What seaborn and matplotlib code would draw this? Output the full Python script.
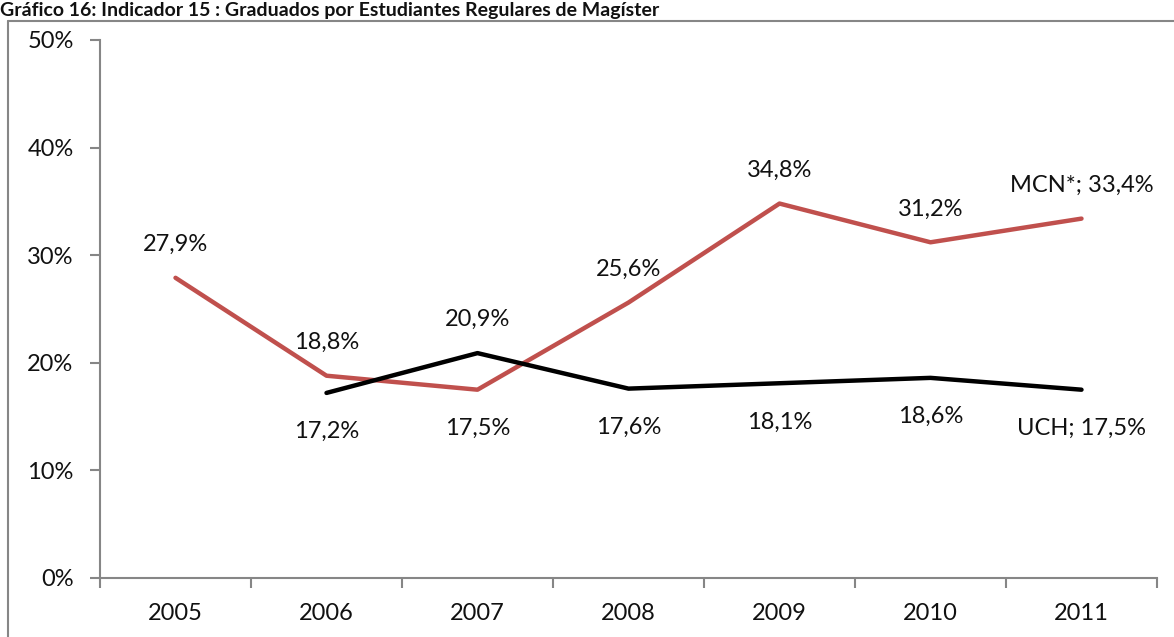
import matplotlib
matplotlib.use("Agg")
import matplotlib.pyplot as plt
import seaborn as sns
import pandas as pd
import numpy as np
from matplotlib.lines import Line2D
from matplotlib.ticker import FixedLocator, PercentFormatter

# data
years = ["2005", "2006", "2007", "2008", "2009", "2010", "2011"]
mcn = [27.9, 18.8, 17.5, 25.6, 34.8, 31.2, 33.4]
uch = [np.nan, 17.2, 20.9, 17.6, 18.1, 18.6, 17.5]
series_names = ["MCN*", "UCH"]
title = "Gráfico 16: Indicador 15 : Graduados por Estudiantes Regulares de Magíster"

df = pd.DataFrame({
    "year": years * 2,
    "value": mcn + uch,
    "serie": [series_names[0]] * len(years) + [series_names[1]] * len(years),
})

sns.set_theme(style="white")
plt.rcParams["font.family"] = ["Lato", "DejaVu Sans"]

FS = 17
fig = plt.figure(figsize=(11.74, 6.37), dpi=100)
ax = fig.add_axes([100 / 1174, 1 - 578 / 637, 1057 / 1174, 538 / 637])

sns.lineplot(data=df, x="year", y="value", hue="serie",
             palette={"MCN*": "#C0504D", "UCH": "#000000"},
             linewidth=3.2, legend=False, ax=ax, sort=False)

ax.set_xlim(-0.5, 6.5)
ax.set_ylim(0, 50)
ax.set_xlabel("")
ax.set_ylabel("")
ax.yaxis.set_major_locator(FixedLocator([0, 10, 20, 30, 40, 50]))
ax.yaxis.set_major_formatter(PercentFormatter(decimals=0))

gray = "#868686"
for s in ["top", "right"]:
    ax.spines[s].set_visible(False)
for s in ["left", "bottom"]:
    ax.spines[s].set_color(gray)
    ax.spines[s].set_linewidth(1.5)

ax.tick_params(axis="y", left=True, length=7, width=1.5, color=gray,
               labelsize=FS, pad=12, labelcolor="#111111")
ax.tick_params(axis="x", which="major", bottom=False, labelsize=FS, pad=12,
               labelcolor="#111111")
ax.xaxis.set_minor_locator(FixedLocator(np.arange(-0.5, 7, 1)))
ax.tick_params(axis="x", which="minor", bottom=True, length=7, width=1.5,
               color=gray)

# data labels
def fmt(v):
    return f"{v:.1f}%".replace(".", ",")

# MCN label above except 2007, UCH label below except 2007
for i, v in enumerate(mcn):
    txt = fmt(v)
    if i == len(years) - 1:
        txt = f"{series_names[0]}; {txt}"
    dy = -28 if i == 2 else 24
    ax.annotate(txt, (i, v), xytext=(0, dy), textcoords="offset points",
                ha="center", va="center", fontsize=FS, color="#111111")
for i, v in enumerate(uch):
    if np.isnan(v):
        continue
    txt = fmt(v)
    if i == len(years) - 1:
        txt = f"{series_names[1]}; {txt}"
    dy = 24 if i == 2 else -28
    ax.annotate(txt, (i, v), xytext=(0, dy), textcoords="offset points",
                ha="center", va="center", fontsize=FS, color="#111111")

# outer frame and title
fig.add_artist(Line2D([8 / 1174, 8 / 1174], [0, 1 - 21 / 637],
                      transform=fig.transFigure, color=gray, lw=1.5))
fig.add_artist(Line2D([8 / 1174, 1], [1 - 21 / 637, 1 - 21 / 637],
                      transform=fig.transFigure, color=gray, lw=1.5))
fig.text(0, 1 - 16 / 637, title, fontsize=14, fontweight="bold",
         va="baseline", ha="left", color="#111111")

fig.savefig("out.png", dpi=100)
